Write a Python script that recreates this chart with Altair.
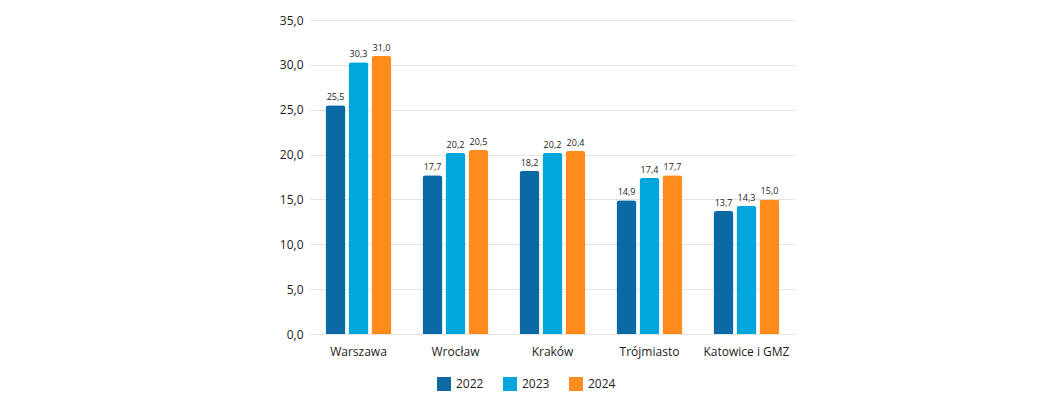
import altair as alt
import pandas as pd

cities = ["Warszawa", "Wrocław", "Kraków", "Trójmiasto", "Katowice i GMZ"]
years = ["2022", "2023", "2024"]
v2022 = [25.5, 17.7, 18.2, 14.9, 13.7]
v2023 = [30.3, 20.2, 20.2, 17.4, 14.3]
v2024 = [31.0, 20.5, 20.4, 17.7, 15.0]
colors = ["#0b6aa6", "#00a6dc", "#fd8c1c"]

rows = []
for i, c in enumerate(cities):
    for y, vals in zip(years, [v2022, v2023, v2024]):
        rows.append({"city": c, "year": y, "value": vals[i]})
df = pd.DataFrame(rows)

FONT = "Open Sans"

base = alt.Chart(df).encode(
    x=alt.X("city:N", sort=cities, title=None,
            scale=alt.Scale(paddingInner=0.32, paddingOuter=0.16),
            axis=alt.Axis(labelAngle=0, domain=False, ticks=False, labelPadding=12,
                          labelFontSize=12, labelColor="#222222", labelFont=FONT)),
    xOffset=alt.XOffset("year:N", sort=years, scale=alt.Scale(paddingInner=0.13)),
    y=alt.Y("value:Q", title=None,
            scale=alt.Scale(domain=[0, 35]),
            axis=alt.Axis(values=[0, 5, 10, 15, 20, 25, 30, 35], domain=False, ticks=False,
                          labelPadding=7, labelFontSize=12, labelColor="#222222", labelFont=FONT,
                          gridColor="#e3e3e3", labelExpr="replace(format(datum.value, '.1f'), '.', ',')")),
)

bars = base.mark_bar(cornerRadiusTopLeft=3, cornerRadiusTopRight=3).encode(
    color=alt.Color("year:N", sort=years, title=None,
                    scale=alt.Scale(domain=years, range=colors),
                    legend=alt.Legend(orient="none", direction="horizontal", legendX=127, legendY=357,
                                      symbolType="square", symbolSize=196, symbolStrokeWidth=0,
                                      labelFontSize=12, labelFont=FONT, labelColor="#222222",
                                      labelOffset=5, columnPadding=19)),
)

labels = base.mark_text(dy=-3, fontSize=9, font=FONT, color="#222222", baseline="bottom").encode(
    text=alt.Text("label:N"),
).transform_calculate(label="replace(format(datum.value, '.1f'), '.', ',')")

chart = (bars + labels).properties(
    width=485, height=314,
    autosize=alt.AutoSizeParams(type="none"),
    padding={"left": 302, "top": 12, "right": 255, "bottom": 62},
).configure(background="white").configure_view(stroke=None)

chart.save("out.html", embed_options={"renderer": "svg", "actions": False})
